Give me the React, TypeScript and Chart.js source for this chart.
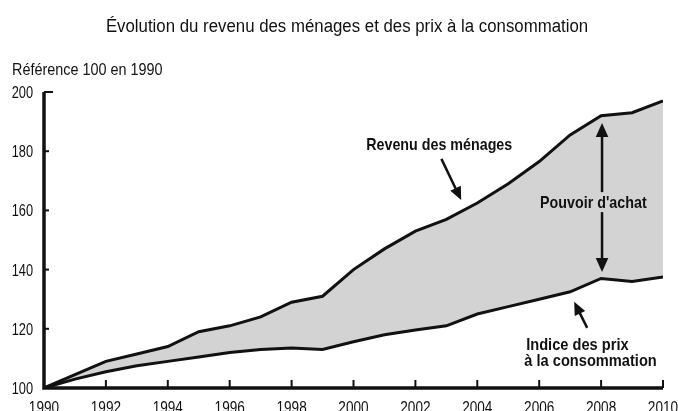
import React, { useEffect, useRef } from "react";
import { Chart, registerables } from "chart.js";

Chart.register(...registerables);

const years = [1990, 1991, 1992, 1993, 1994, 1995, 1996, 1997, 1998, 1999, 2000, 2001, 2002, 2003, 2004, 2005, 2006, 2007, 2008, 2009, 2010];
const revenu = [100, 104.5, 109, 111.5, 114, 119, 121, 124, 129, 131, 140, 147, 153, 157, 162.5, 169, 176.5, 185.5, 192, 193, 197];
const prix = [100, 103, 105.5, 107.5, 109, 110.5, 112, 113, 113.5, 113, 115.6, 118, 119.6, 121, 125, 127.5, 130, 132.5, 137, 136, 137.5];
const yTicks = [100, 120, 140, 160, 180, 200];
const xTicks = [1990, 1992, 1994, 1996, 1998, 2000, 2002, 2004, 2006, 2008, 2010];

const TITLE = "Évolution du revenu des ménages et des prix à la consommation";
const YTITLE = "Référence 100 en 1990";
const FONT = "'Liberation Sans', Arial, sans-serif";
const FILL = "#d3d3d3";
const INK = "#111";

function sText(ctx: any, text: string, x: number, y: number, font: string, sx: number, align: string, baseline: string) {
  ctx.save();
  ctx.font = font;
  ctx.textAlign = align;
  ctx.textBaseline = baseline;
  ctx.translate(x, y);
  ctx.scale(sx, 1);
  ctx.fillText(text, 0, 0);
  ctx.restore();
}

const annotPlugin = {
  id: "annot",
  afterDatasetsDraw(chart: any) {
    const { ctx, scales, chartArea } = chart;
    const x = scales.x, y = scales.y;
    ctx.save();
    ctx.fillStyle = INK;
    ctx.strokeStyle = INK;
    // axes
    ctx.lineWidth = 3.5;
    ctx.beginPath();
    ctx.moveTo(chartArea.left, chartArea.top);
    ctx.lineTo(chartArea.left, chartArea.bottom);
    ctx.lineTo(chartArea.right, chartArea.bottom);
    ctx.stroke();
    ctx.lineWidth = 2;
    yTicks.forEach((v) => {
      const py = y.getPixelForValue(v);
      if (v !== 100) {
        ctx.beginPath();
        ctx.moveTo(chartArea.left, py);
        ctx.lineTo(chartArea.left + (v === 200 ? 9 : 5), py);
        ctx.stroke();
      }
      sText(ctx, String(v), chartArea.left - 11, py + 6, `16px ${FONT}`, 0.8, "right", "alphabetic");
    });
    xTicks.forEach((v) => {
      const px = x.getPixelForValue(v);
      if (v !== 1990) {
        ctx.beginPath();
        ctx.moveTo(px, chartArea.bottom);
        ctx.lineTo(px, chartArea.bottom - 8);
        ctx.stroke();
      }
      sText(ctx, String(v), px, chartArea.bottom + 25, `17px ${FONT}`, 0.8, "center", "alphabetic");
    });
    // titles
    sText(ctx, TITLE, 347, 32, `18px ${FONT}`, 0.934, "center", "alphabetic");
    sText(ctx, YTITLE, 12, 75, `16px ${FONT}`, 0.9, "left", "alphabetic");

    const arrow = (x1: number, y1: number, x2: number, y2: number, head: number) => {
      const a = Math.atan2(y2 - y1, x2 - x1);
      ctx.beginPath();
      ctx.moveTo(x1, y1);
      ctx.lineTo(x2 - Math.cos(a) * head * 0.8, y2 - Math.sin(a) * head * 0.8);
      ctx.stroke();
      ctx.beginPath();
      ctx.moveTo(x2, y2);
      ctx.lineTo(x2 - head * Math.cos(a) + head * 0.45 * Math.sin(a), y2 - head * Math.sin(a) - head * 0.45 * Math.cos(a));
      ctx.lineTo(x2 - head * Math.cos(a) - head * 0.45 * Math.sin(a), y2 - head * Math.sin(a) + head * 0.45 * Math.cos(a));
      ctx.closePath();
      ctx.fill();
    };

    const BF = `bold 17px ${FONT}`;
    sText(ctx, "Revenu des ménages", x.getPixelForValue(2002.77), y.getPixelForValue(180.4), BF, 0.84, "center", "alphabetic");
    ctx.lineWidth = 2.5;
    arrow(x.getPixelForValue(2002.84), y.getPixelForValue(177.4), x.getPixelForValue(2003.48), y.getPixelForValue(163.5), 13);

    // pouvoir d'achat double arrow
    const ax = x.getPixelForValue(2008.03);
    const ay1 = y.getPixelForValue(189.5);
    const ay2 = y.getPixelForValue(139.2);
    const mid = (ay1 + ay2) / 2;
    arrow(ax, mid, ax, ay1, 14);
    arrow(ax, mid, ax, ay2, 14);
    const tx = x.getPixelForValue(2007.75);
    const ty = y.getPixelForValue(162.8);
    ctx.fillStyle = FILL;
    ctx.fillRect(tx - 56, ty - 10, 112, 20);
    ctx.fillStyle = INK;
    sText(ctx, "Pouvoir d'achat", tx, ty + 6, BF, 0.84, "center", "alphabetic");

    sText(ctx, "Indice des prix", x.getPixelForValue(2005.58), y.getPixelForValue(113.0), BF, 0.86, "left", "alphabetic");
    sText(ctx, "à la consommation", x.getPixelForValue(2005.52), y.getPixelForValue(107.3), BF, 0.86, "left", "alphabetic");
    arrow(x.getPixelForValue(2007.55), y.getPixelForValue(120.3), x.getPixelForValue(2007.13), y.getPixelForValue(129.1), 13);
    ctx.restore();
  },
};

export default function App() {
  const ref = useRef<HTMLCanvasElement>(null);
  useEffect(() => {
    if (!ref.current) return;
    const chart = new Chart(ref.current, {
      type: "line",
      data: {
        datasets: [
          {
            label: "Revenu des ménages",
            data: years.map((yr, i) => ({ x: yr, y: revenu[i] })),
            borderColor: INK,
            borderWidth: 3,
            pointRadius: 0,
            tension: 0,
            fill: false,
          },
          {
            label: "Indice des prix à la consommation",
            data: years.map((yr, i) => ({ x: yr, y: prix[i] })),
            borderColor: INK,
            borderWidth: 3,
            pointRadius: 0,
            tension: 0,
            fill: "-1",
            backgroundColor: FILL,
          },
        ],
      },
      plugins: [annotPlugin],
      options: {
        animation: false,
        responsive: false,
        layout: { padding: { top: 92, right: 15, left: 0, bottom: 0 } },
        plugins: { legend: { display: false }, tooltip: { enabled: false } },
        scales: {
          x: {
            type: "linear",
            min: 1990,
            max: 2010,
            afterBuildTicks: (s: any) => { s.ticks = xTicks.map((v) => ({ value: v })); },
            afterFit: (s: any) => { s.height = 23; },
            grid: { display: false, drawTicks: false },
            border: { display: false },
            ticks: { display: false },
          },
          y: {
            min: 100,
            max: 200,
            afterBuildTicks: (s: any) => { s.ticks = yTicks.map((v) => ({ value: v })); },
            afterFit: (s: any) => { s.width = 44; },
            grid: { display: false, drawTicks: false },
            border: { display: false },
            ticks: { display: false },
          },
        },
      },
    });
    return () => chart.destroy();
  }, []);
  return (
    <div style={{ position: "fixed", left: 0, top: 0, width: 678, height: 411, background: "#fff" }}>
      <canvas ref={ref} width={678} height={411} />
    </div>
  );
}
